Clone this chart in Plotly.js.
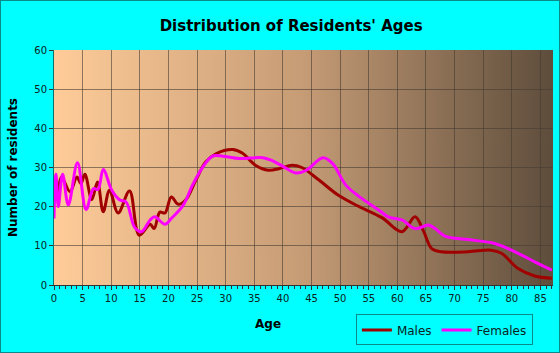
<!DOCTYPE html>
<html>
<head>
<meta charset="utf-8">
<script src="https://cdn.plot.ly/plotly-3.0.1.min.js"></script>
<style>
  html, body { margin: 0; padding: 0; background: #00FFFF; }
  #chart { width: 558px; height: 351px; border: 1px solid #0a8a8a; }
</style>
</head>
<body>
<div id="chart"></div>
<script>
// ---- data ----
const maleAges = [0, 0.6, 1.3, 2.8, 4, 4.7, 5.4, 6.6, 7.6, 8.6, 9.7, 11.2, 13.2, 14.9, 16.8, 17.5, 18.5, 19.4, 20.5, 21.7, 23, 24.8, 26.5, 28.3, 31.2, 32.9, 35.2, 37.5, 39.3, 41.6, 43.3, 46.3, 49.7, 53.2, 57.3, 60.8, 63.1, 64.5, 66, 67.7, 72.4, 76.4, 78.2, 81.1, 84, 87];
const maleCounts = [27.2, 23.8, 27.6, 23.8, 27.6, 25.9, 28.3, 21.8, 26.3, 18.7, 24.2, 18.4, 24.0, 12.7, 15.5, 14.4, 18.6, 18.4, 22.5, 20.6, 21.7, 26.8, 31.4, 33.5, 34.6, 33.7, 30.6, 29.3, 29.7, 30.6, 30.0, 26.8, 22.9, 20.1, 17.2, 13.6, 17.4, 14.0, 9.3, 8.5, 8.5, 8.9, 8.1, 4.2, 2.3, 1.7];

const femaleAges = [0, 0.35, 0.75, 1.5, 2.5, 4.1, 5.6, 6.9, 7.7, 8.6, 10.1, 11.5, 12.6, 14.1, 15.3, 16.8, 17.6, 19.4, 20.5, 22.6, 24.2, 26, 27.7, 29.5, 32.4, 36.5, 38.2, 40, 42.3, 44.1, 47, 48.7, 51, 53.4, 56.8, 58.4, 60.8, 63.1, 65.4, 66.6, 68.3, 72.4, 77, 81.1, 84, 87];
const femaleCounts = [17.0, 28.3, 20.0, 28.3, 20.4, 31.2, 19.3, 24.6, 24.4, 29.5, 24.2, 21.7, 21.2, 14.7, 13.6, 16.6, 17.4, 15.5, 17.0, 20.4, 25.5, 30.1, 32.9, 32.9, 32.3, 32.5, 31.7, 30.3, 28.6, 29.3, 32.5, 31.0, 25.5, 22.5, 19.1, 17.4, 16.6, 14.4, 15.3, 14.4, 12.5, 11.6, 10.6, 8.1, 5.9, 3.8];

const seriesNames = ["Males", "Females"];
const xTickVals = [0, 5, 10, 15, 20, 25, 30, 35, 40, 45, 50, 55, 60, 65, 70, 75, 80, 85];
const yTickVals = [0, 10, 20, 30, 40, 50, 60];

// ---- background gradient (plot area) ----
function gradientURL() {
  const c = document.createElement('canvas');
  c.width = 500; c.height = 4;
  const g = c.getContext('2d');
  const grd = g.createLinearGradient(0, 0, 500, 0);
  grd.addColorStop(0, 'rgb(255,204,153)');
  grd.addColorStop(0.5, 'rgb(198,156,118)');
  grd.addColorStop(1, 'rgb(94,77,60)');
  g.fillStyle = grd;
  g.fillRect(0, 0, 500, 4);
  return c.toDataURL('image/png');
}

const font = 'DejaVu Sans, Verdana, Arial, sans-serif';
const textColor = '#0b2222';
const gridColor = 'rgba(70,60,50,0.6)';

const traces = [
  {
    x: maleAges, y: maleCounts, name: seriesNames[0],
    type: 'scatter', mode: 'lines',
    line: { color: '#a00000', width: 3, shape: 'spline', smoothing: 1 },
    hoverinfo: 'skip'
  },
  {
    x: femaleAges, y: femaleCounts, name: seriesNames[1],
    type: 'scatter', mode: 'lines',
    line: { color: '#ff00ff', width: 3, shape: 'spline', smoothing: 1 },
    hoverinfo: 'skip'
  }
];

const layout = {
  width: 558, height: 351,
  paper_bgcolor: '#00FFFF',
  plot_bgcolor: 'rgba(0,0,0,0)',
  margin: { l: 53, r: 6, t: 48.5, b: 67 },
  title: {
    text: "<b>Distribution of Residents' Ages</b>",
    font: { family: font, size: 15, color: '#000' },
    x: 0.52, xanchor: 'center', y: 0.93, yanchor: 'middle'
  },
  showlegend: true,
  legend: {
    orientation: 'h',
    x: 0.605, xanchor: 'left', y: -0.125, yanchor: 'top',
    bgcolor: 'rgba(0,0,0,0)', bordercolor: '#0a8a8a', borderwidth: 1,
    font: { family: font, size: 12, color: textColor },
    itemwidth: 30, tracegroupgap: 0
  },
  xaxis: {
    range: [0, 87.2],
    tickvals: xTickVals,
    ticks: 'outside', ticklen: 4, tickcolor: '#333',
    tickfont: { family: font, size: 10, color: textColor },
    showgrid: true, gridcolor: gridColor, gridwidth: 1,
    showline: true, linecolor: '#333', linewidth: 1,
    zeroline: false,
    minor: { dtick: 1, ticks: 'outside', ticklen: 3, tickcolor: '#333', showgrid: false },
    fixedrange: true
  },
  yaxis: {
    range: [0, 60],
    tickvals: yTickVals,
    ticks: 'outside', ticklen: 4, tickcolor: '#333',
    tickfont: { family: font, size: 10, color: textColor },
    showgrid: true, gridcolor: gridColor, gridwidth: 1,
    showline: true, linecolor: '#0a7070', linewidth: 1,
    zeroline: false,
    title: { text: '<b>Number of residents</b>', font: { family: font, size: 12, color: '#000' }, standoff: 14 },
    fixedrange: true
  },
  annotations: [
    {
      text: '<b>Age</b>', xref: 'paper', yref: 'paper',
      x: 0.428, y: -0.165, xanchor: 'center', yanchor: 'middle',
      showarrow: false, font: { family: font, size: 12, color: '#000' }
    }
  ],
  images: [
    {
      source: gradientURL(), xref: 'x domain', yref: 'y domain',
      x: 0, y: 1, sizex: 1, sizey: 1, xanchor: 'left', yanchor: 'top',
      sizing: 'stretch', layer: 'below'
    }
  ]
};

Plotly.newPlot('chart', traces, layout, { displayModeBar: false, staticPlot: true });
</script>
</body>
</html>
